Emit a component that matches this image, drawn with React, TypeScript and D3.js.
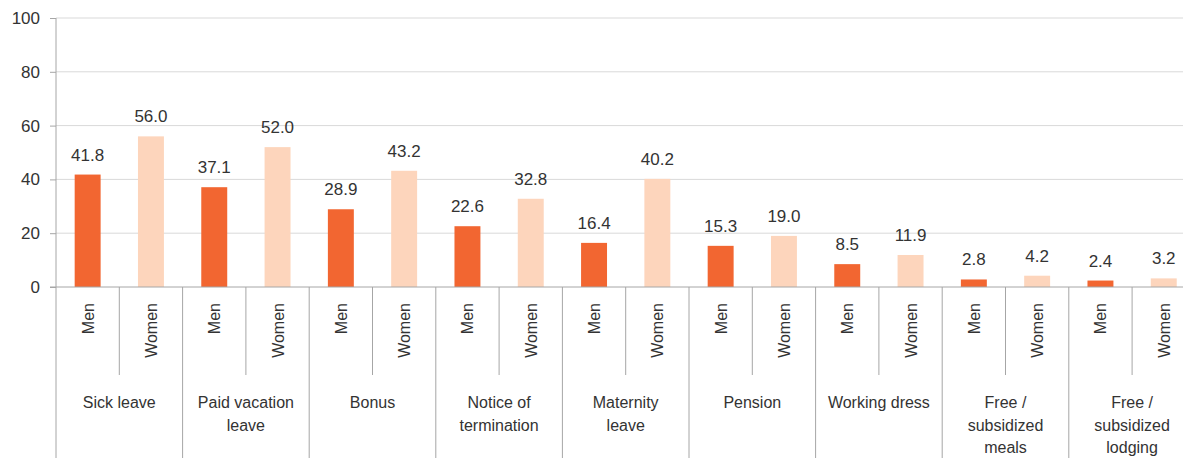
import React, { useEffect, useRef } from "react";
import * as d3 from "d3";

// benefit categories (line breaks as in the source)
const categories = [
  ["Sick leave"],
  ["Paid vacation", "leave"],
  ["Bonus"],
  ["Notice of", "termination"],
  ["Maternity", "leave"],
  ["Pension"],
  ["Working dress"],
  ["Free /", "subsidized", "meals"],
  ["Free /", "subsidized", "lodging"],
];
const menValues = [41.8, 37.1, 28.9, 22.6, 16.4, 15.3, 8.5, 2.8, 2.4];
const womenValues = [56.0, 52.0, 43.2, 32.8, 40.2, 19.0, 11.9, 4.2, 3.2];
const genders = ["Men", "Women"];
const yTicks = [0, 20, 40, 60, 80, 100];

const colors: Record<string, string> = { Men: "#f26631", Women: "#fdd5bc" };

export default function App() {
  const ref = useRef<SVGSVGElement>(null);

  useEffect(() => {
    const W = 1183,
      H = 458;
    const left = 56,
      top = 18,
      bottom = 287;
    const groupW = 126.6;

    const svg = d3.select(ref.current);
    svg.selectAll("*").remove();
    svg.style("font-family", "'Liberation Sans', Arial, sans-serif");

    const keys = categories.map((c) => c.join(" "));
    const x = d3
      .scaleBand()
      .domain(keys)
      .range([left, left + groupW * keys.length])
      .padding(0);
    const xInner = d3
      .scaleBand()
      .domain(genders)
      .range([0, x.bandwidth()])
      .paddingInner(0.59)
      .paddingOuter(0.295);
    const y = d3.scaleLinear().domain([0, 100]).range([bottom, top]);

    // gridlines
    svg
      .append("g")
      .selectAll("line")
      .data(yTicks.filter((t) => t > 0))
      .enter()
      .append("line")
      .attr("x1", left)
      .attr("x2", W)
      .attr("y1", (d) => y(d))
      .attr("y2", (d) => y(d))
      .attr("stroke", "#d9d9d9")
      .attr("stroke-width", 1);

    // y axis
    const yAxis = svg
      .append("g")
      .attr("transform", `translate(${left},0)`)
      .call(d3.axisLeft(y).tickValues(yTicks).tickSize(6).tickPadding(10));
    yAxis.select(".domain").remove();
    yAxis.selectAll(".tick line").attr("stroke", "#a6a6a6");
    yAxis
      .selectAll(".tick text")
      .attr("fill", "#333")
      .style("font-size", "17px")
      .style("font-family", "'Liberation Sans', Arial, sans-serif");

    // bars
    const rows = keys.map((k, i) => ({
      key: k,
      lines: categories[i],
      vals: [
        { g: "Men", v: menValues[i] },
        { g: "Women", v: womenValues[i] },
      ],
    }));

    const grp = svg
      .append("g")
      .selectAll("g")
      .data(rows)
      .enter()
      .append("g")
      .attr("transform", (d) => `translate(${x(d.key)},0)`);

    grp
      .selectAll("rect")
      .data((d) => d.vals)
      .enter()
      .append("rect")
      .attr("x", (d) => xInner(d.g)!)
      .attr("y", (d) => y(d.v))
      .attr("width", xInner.bandwidth())
      .attr("height", (d) => y(0) - y(d.v))
      .attr("fill", (d) => colors[d.g]);

    grp
      .selectAll("text.val")
      .data((d) => d.vals)
      .enter()
      .append("text")
      .attr("class", "val")
      .attr("x", (d) => xInner(d.g)! + xInner.bandwidth() / 2)
      .attr("y", (d) => y(d.v) - 14)
      .attr("text-anchor", "middle")
      .attr("fill", "#333")
      .style("font-size", "17px")
      .text((d) => d.v.toFixed(1));

    // gender labels (rotated)
    grp
      .selectAll("text.gender")
      .data((d) => d.vals)
      .enter()
      .append("text")
      .attr("class", "gender")
      .attr(
        "transform",
        (d) =>
          `translate(${xInner(d.g)! + xInner.bandwidth() / 2 + 6},303) rotate(-90)`
      )
      .attr("text-anchor", "end")
      .attr("fill", "#333")
      .style("font-size", "16px")
      .text((d) => d.g);

    // sub tick between Men/Women
    grp
      .append("line")
      .attr("x1", x.bandwidth() / 2)
      .attr("x2", x.bandwidth() / 2)
      .attr("y1", bottom)
      .attr("y2", 375)
      .attr("stroke", "#a6a6a6");

    // group boundary lines
    grp
      .append("line")
      .attr("x1", x.bandwidth())
      .attr("x2", x.bandwidth())
      .attr("y1", bottom)
      .attr("y2", H)
      .attr("stroke", "#a6a6a6");

    // category labels
    grp
      .append("text")
      .attr("text-anchor", "middle")
      .attr("fill", "#333")
      .style("font-size", "16px")
      .selectAll("tspan")
      .data((d) => d.lines)
      .enter()
      .append("tspan")
      .attr("x", x.bandwidth() / 2)
      .attr("y", (d, i) => 408 + i * 22.5)
      .text((d) => d);

    // baseline and vertical axis
    svg
      .append("line")
      .attr("x1", left - 6)
      .attr("x2", W)
      .attr("y1", y(0))
      .attr("y2", y(0))
      .attr("stroke", "#a6a6a6");
    svg
      .append("line")
      .attr("x1", left)
      .attr("x2", left)
      .attr("y1", top)
      .attr("y2", H)
      .attr("stroke", "#a6a6a6");
  }, []);

  return (
    <svg
      ref={ref}
      width={1183}
      height={458}
      style={{ position: "absolute", left: 0, top: 0, background: "#fff" }}
    />
  );
}
